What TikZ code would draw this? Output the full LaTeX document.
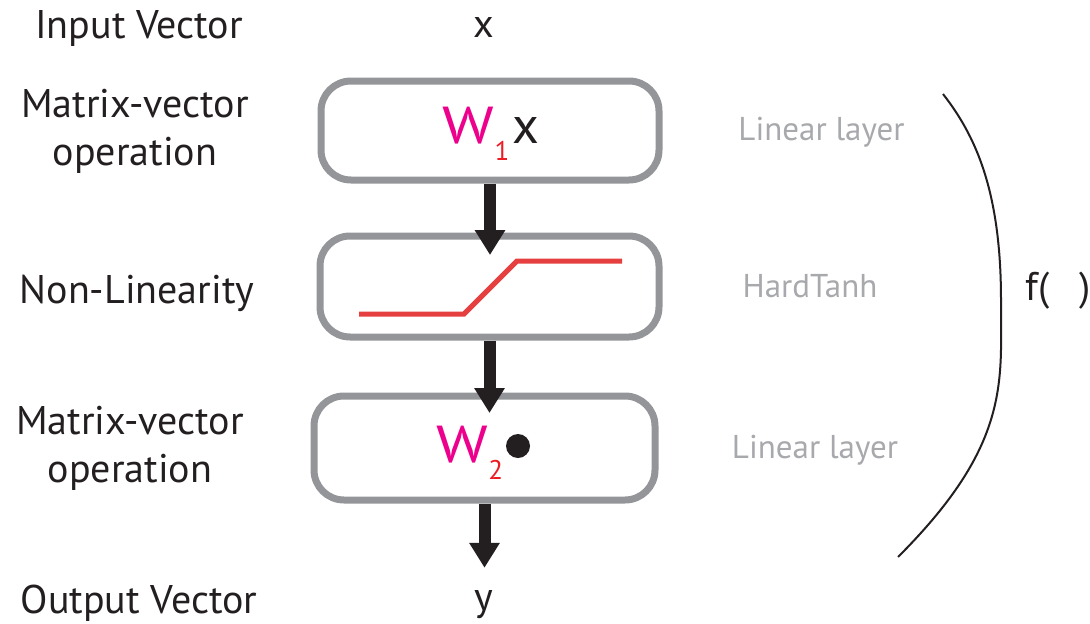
\documentclass[tikz,border=0pt]{standalone}
\usepackage{fontspec}
\setmainfont{PT Sans}
\usetikzlibrary{arrows.meta}
\definecolor{boxgray}{HTML}{939598}
\definecolor{labgray}{HTML}{A7A9AC}
\definecolor{ink}{HTML}{231F20}
\definecolor{wmag}{HTML}{EC008C}
\definecolor{subred}{HTML}{ED1C24}
\definecolor{tanhred}{HTML}{E5403F}
\newcommand\subfnt{\fontsize{27}{27}\selectfont}
\newcommand\wideW{\scalebox{1.2}[1]{W}}
\begin{document}
\begin{tikzpicture}[x=1pt,y=-1pt,
  stage/.style={draw=boxgray, line width=7pt, rounded corners=30pt, inner sep=0pt},
  lab/.style={font=\fontsize{40}{48}\selectfont, text=ink, inner sep=0pt, align=center, anchor=base},
  side/.style={font=\fontsize{33}{38}\selectfont, text=labgray, inner sep=0pt, anchor=base},
  flow/.style={line width=12pt, draw=ink, -{Triangle[length=25pt,width=29pt]}},
  wtext/.style={font=\fontsize{52}{52}\selectfont, inner sep=0pt, anchor=base}
]
\useasboundingbox (0,0) rectangle (1090,624);

% stages
\node[stage, minimum width=338pt, minimum height=99pt] (b1) at (490,130.5) {};
\node[stage, minimum width=339pt, minimum height=101pt] (b2) at (489.5,286.5) {};
\node[stage, minimum width=341pt, minimum height=104pt] (b3) at (484.5,448) {};

% box contents
\node[wtext] (w1x) at (491,143) {\textcolor{wmag}{\wideW}\kern0pt\raisebox{-17pt}{\subfnt\textcolor{subred}{1}}\kern3pt\textcolor{ink}{x}};
\node[wtext] (w2) at (470,462) {\textcolor{wmag}{\wideW}\kern0pt\raisebox{-17pt}{\subfnt\textcolor{subred}{2}}};
\node[circle, fill=ink, minimum size=24pt, inner sep=0pt] (dot) at (518,446) {};
\draw[tanhred, line width=5pt] (359,314) -- (464,314) -- (517,261) -- (622,261);

% input / output
\node[lab] (xin) at (483.5,37) {x};
\node[lab] (yout) at (484,610) {y};
\coordinate (yend) at ([yshift=22pt]yout.north);

% arrows
\draw[flow] (b1.south) -- ([yshift=-22.5pt]b1.south |- b2.north);
\draw[flow] (b2.south) -- ([yshift=-20.5pt]b2.south |- b3.north);
\draw[flow] (b3.south) -- (b3.south |- yend);

% left labels (base anchor = last line baseline)
\node[lab] (lin) at (139,38) {Input Vector};
\node[lab] (lmv1) at (135,165) {Matrix-vector\\operation};
\node[lab] (lnl) at (137,303) {Non-Linearity};
\node[lab] (lmv2) at (130,482) {Matrix-vector\\operation};
\node[lab] (lout) at (139,613) {Output Vector};

% right labels
\node[side] (s1) at (821.5,140) {Linear layer};
\node[side] (s2) at (810,297) {HardTanh};
\node[side] (s3) at (815,458) {Linear layer};

% bracket
\draw[ink, line width=2pt] (943,94) .. controls (975,135) and (1001,190) .. (1001,300) -- (1001,330) .. controls (1002,400) and (995,460) .. (898,557);
\node[lab] (fx) at (1058,300) {f(\hspace{30pt})};
\end{tikzpicture}
\end{document}
